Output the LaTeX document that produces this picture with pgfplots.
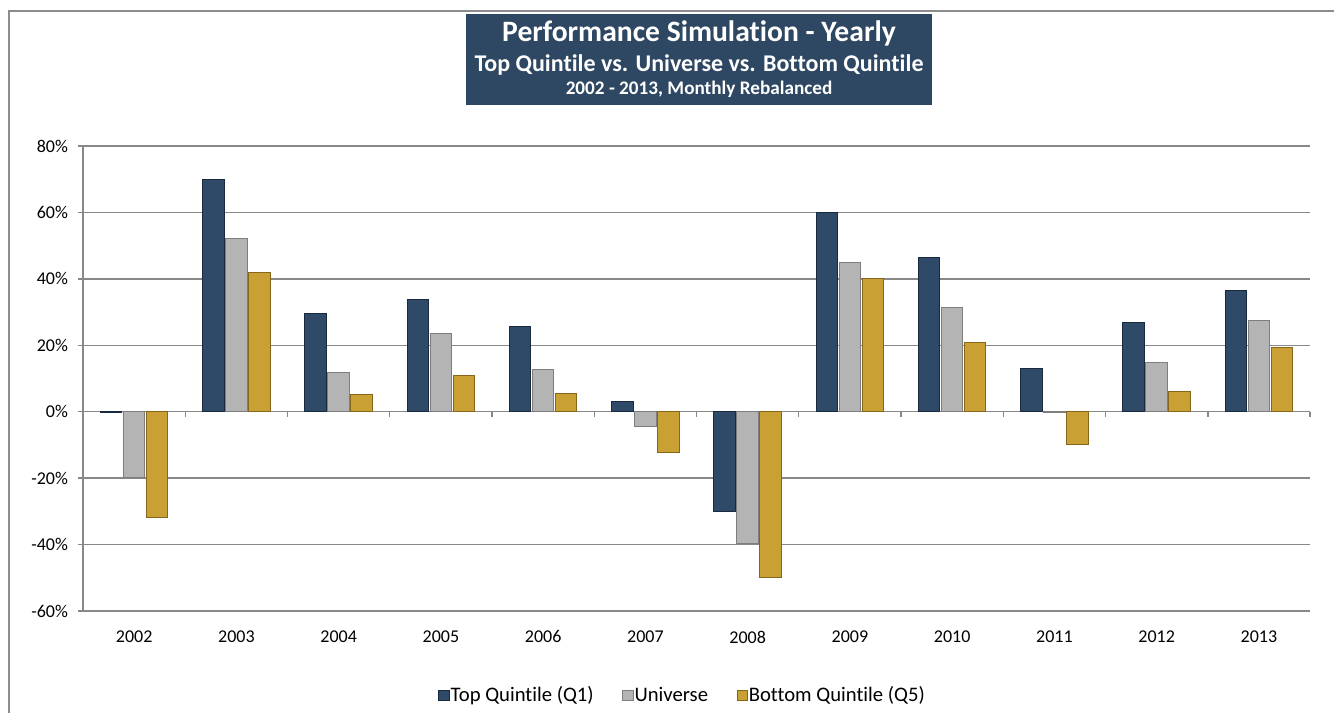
\documentclass[border=0pt]{standalone}
\usepackage{fontspec}
\setmainfont{Carlito}[Ligatures={NoCommon}]
\usepackage{pgfplots}
\pgfplotsset{compat=1.18}
\definecolor{titlebg}{HTML}{2E4762}
\definecolor{navyF}{HTML}{2F4A69}
\definecolor{navyB}{HTML}{1A2A3E}
\definecolor{grayF}{HTML}{B4B4B4}
\definecolor{grayB}{HTML}{7E7E7E}
\definecolor{goldF}{HTML}{C9A033}
\definecolor{goldB}{HTML}{86661A}
\definecolor{gridc}{HTML}{888888}
\definecolor{framec}{HTML}{8C8C8C}
\begin{document}
\begin{tikzpicture}
\path[use as bounding box] (0,0) rectangle (1000.5pt,534.75pt);
\draw[framec, line width=1.3pt] (6.75pt,0) -- (6.75pt,526.75pt) -- (1000.5pt,526.75pt);
\fill[titlebg] (349.5pt,456pt) rectangle (699pt,524.25pt);
\node[anchor=base, text=white, font=\bfseries\fontsize{22.2}{24}\selectfont, inner sep=0pt] at (524.25pt,503.5pt) {Performance Simulation - Yearly};
\node[anchor=base, text=white, font=\bfseries\fontsize{18}{20}\selectfont, inner sep=0pt] at (524.25pt,481pt) {Top Quintile vs. Universe vs. Bottom Quintile};
\node[anchor=base, text=white, font=\bfseries\fontsize{14.4}{16}\selectfont, inner sep=0pt] at (524.25pt,464pt) {2002 - 2013, Monthly Rebalanced};

% x axis line at zero with category boundary ticks
\begin{axis}[at={(62.25pt,76.5pt)}, anchor=south west, scale only axis,
  width=920.25pt, height=348.75pt,
  xmin=-0.5, xmax=11.5, ymin=-60, ymax=80,
  axis x line=middle, axis y line=none,
  xtick={-0.5,0.5,...,11.5}, xticklabels={},
  ytick=\empty,
  x axis line style={gridc, line width=1.1pt, -},
  xtick style={gridc, line width=1.1pt},
  tick align=outside, major tick length=3.75pt]
\end{axis}

\begin{axis}[at={(62.25pt,76.5pt)}, anchor=south west, scale only axis,
  width=920.25pt, height=348.75pt,
  xmin=-0.5, xmax=11.5, ymin=-60, ymax=80,
  ybar, bar width=0.21,
  axis lines*=left,
  x axis line style={draw=none},
  y axis line style={gridc, line width=1.1pt},
  xtick={0,...,11},
  xticklabels={2002,2003,2004,2005,2006,2007,2008,2009,2010,2011,2012,2013},
  xtick style={draw=none},
  ytick={-60,-40,-20,0,20,40,60,80},
  yticklabels={-60\%,-40\%,-20\%,0\%,20\%,40\%,60\%,80\%},
  ytick style={gridc, line width=1.1pt},
  tick align=outside, major tick length=3.75pt,
  ymajorgrids, grid style={gridc, line width=1.1pt},
  tick label style={font=\fontsize{13.5}{15}\selectfont, text=black},
  yticklabel style={xshift=-4pt},
  xticklabel style={yshift=-7.5pt},
  legend columns=3,
  legend style={at={(0.489,-0.181)}, anchor=center, draw=none, fill=none,
    font=\fontsize{15.5}{17}\selectfont,
    /tikz/every odd column/.append style={column sep=-1pt},
    /tikz/every even column/.append style={column sep=19.5pt}},
  legend image code/.code={\draw[#1, line width=0.5pt] (0pt,-3.8pt) rectangle (7.6pt,3.8pt);},
]
\addplot[draw=navyB, line width=0.7pt, fill=navyF, bar shift=-0.225]
coordinates {(0,-0.2) (1,69.8) (2,29.7) (3,33.9) (4,25.8) (5,3.2) (6,-30.0) (7,60.0) (8,46.3) (9,12.9) (10,27.0) (11,36.6)};
\addplot[draw=grayB, line width=0.7pt, fill=grayF, bar shift=0]
coordinates {(0,-19.9) (1,52.3) (2,11.9) (3,23.5) (4,12.7) (5,-4.3) (6,-39.8) (7,44.9) (8,31.5) (9,-0.2) (10,14.8) (11,27.5)};
\addplot[draw=goldB, line width=0.7pt, fill=goldF, bar shift=0.225]
coordinates {(0,-31.8) (1,42.0) (2,5.3) (3,10.9) (4,5.5) (5,-12.3) (6,-49.8) (7,40.2) (8,20.8) (9,-9.8) (10,6.0) (11,19.3)};
\legend{Top Quintile (Q1),Universe,Bottom Quintile (Q5)}
\end{axis}
\end{tikzpicture}
\end{document}
